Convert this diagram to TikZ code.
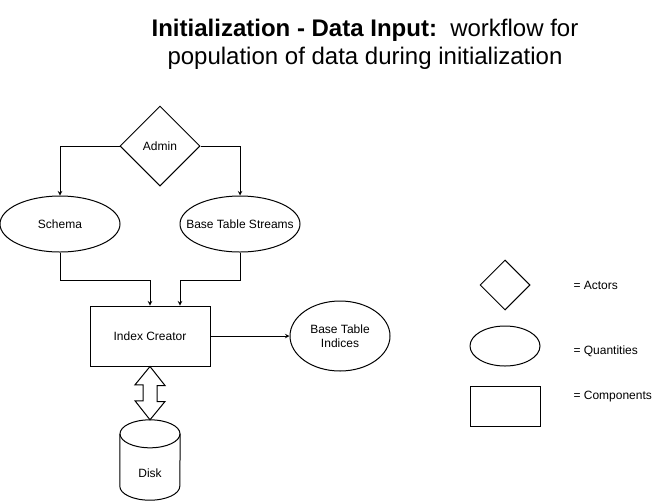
\documentclass[tikz,border=0pt]{standalone}
\usepackage{fontspec}
\setmainfont{Liberation Sans}
\usetikzlibrary{shapes.geometric,arrows,positioning}

\begin{document}
\begin{tikzpicture}[
    x=1pt, y=-1pt,
    font=\fontsize{12}{14}\selectfont,
    actor/.style={diamond, draw, line width=1pt, minimum width=80pt, minimum height=80pt, inner sep=0pt, aspect=1},
    quantity/.style={ellipse, draw, line width=1pt, minimum width=120pt, minimum height=56pt, inner sep=0pt, align=center},
    component/.style={rectangle, draw, line width=1pt, minimum width=120pt, minimum height=60pt, inner sep=0pt},
    storage/.style={rectangle, minimum width=60pt, minimum height=80pt, inner sep=0pt},
    legend/.style={anchor=west, font=\fontsize{12}{14}\selectfont},
    arrow/.style={->, >=stealth, line width=1pt}
]
    \useasboundingbox (0,0) rectangle (671,501);

    % title
    \node[align=center, font=\fontsize{24}{28}\selectfont] (title) at (365,44)
        {\textbf{Initialization - Data Input:}\ \ workflow for\\population of data during initialization};

    % workflow
    \node[actor] (admin) at (160,146) {Admin};
    \node[quantity] (schema) at (60,224) {Schema};
    \node[quantity, label=center:Base Table Streams] (streams) at (240,224) {};
    \node[component] (creator) at (150,336) {Index Creator};
    \node[quantity, minimum width=100pt, minimum height=70pt] (indices) at (340,336) {Base Table\\Indices};
    \node[storage, label={[yshift=-13pt]center:Disk}] (disk) at (150,460) {};
    \coordinate (creator in) at ([xshift=30pt]creator.north);

    % disk outline
    \draw[line width=1pt] ([yshift=-14pt]disk.north west) -- ([yshift=14pt]disk.south west)
        arc[start angle=180, end angle=360, x radius=30pt, y radius=14pt] -- ([yshift=-14pt]disk.north east);
    \draw[line width=1pt] ([yshift=-14pt]disk.north) ellipse[x radius=30pt, y radius=14pt];

    \draw[arrow] (admin.west) -| (schema.north);
    \draw[arrow] (admin.east) -| (streams.north);
    \draw[arrow] (schema.south) -- ++(0,28) -| (creator.north);
    \draw[arrow] (streams.south) -- ++(0,28) -| (creator in);
    \draw[arrow] (creator.east) -- (indices.west);
    % two-way link to the disk
    \draw[line width=1pt, line join=miter] (creator.south) -- ++(15,19) -- ++(-8,0) -- ++(0,16) -- ++(8,0)
        -- (disk.north) -- ++(-15,-19) -- ++(8,0) -- ++(0,-16) -- ++(-8,0) -- cycle;

    % legend
    \node[actor, minimum width=50pt, minimum height=50pt] (key actor) at (505,285) {};
    \node[quantity, minimum width=70pt, minimum height=40pt] (key quantity) at (505,346) {};
    \node[component, minimum width=70pt, minimum height=40pt] (key component) at (505,406) {};
    \node[legend] (actors) at (570,285) {= Actors};
    \node[legend] (quantities) at (570,351) {= Quantities};
    \node[legend] (components) at (570,397) {= Components};
\end{tikzpicture}
\end{document}
